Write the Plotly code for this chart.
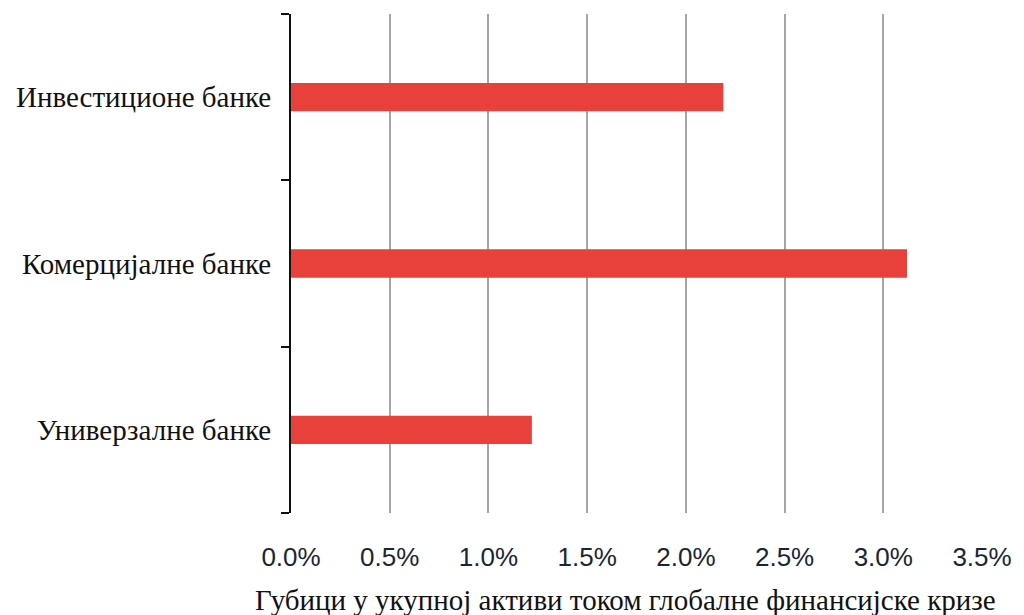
import plotly.graph_objects as go

categories = ["Универзалне банке", "Комерцијалне банке", "Инвестиционе банке"]
values = [0.0122, 0.0312, 0.0219]
tick_vals = [0, 0.005, 0.01, 0.015, 0.02, 0.025, 0.03, 0.035]
tick_text = ["0.0%", "0.5%", "1.0%", "1.5%", "2.0%", "2.5%", "3.0%", "3.5%"]
x_title = "Губици у укупној активи током глобалне финансијске кризе"

fig = go.Figure(go.Bar(
    y=categories, x=values, orientation="h",
    marker=dict(color="#E8403A", line=dict(width=0)),
    width=0.17,
))

fig.update_layout(
    width=1024, height=615,
    margin=dict(l=291, r=36, t=14, b=102),
    plot_bgcolor="white", paper_bgcolor="white",
    showlegend=False,
    annotations=[dict(
        text=x_title, xref="paper", yref="paper",
        x=(628 - 291) / 697, y=-(600 - 513) / 499,
        xanchor="center", yanchor="middle", showarrow=False,
        font=dict(family="Liberation Serif, Times New Roman", size=29, color="#111"),
    )],
)
fig.update_xaxes(
    range=[0, 0.035], tickvals=tick_vals, ticktext=tick_text,
    showgrid=True, gridcolor="#A6A6A6", gridwidth=1.5,
    zeroline=False, showline=False, ticks="",
    ticklabelstandoff=26,
    tickfont=dict(family="Liberation Sans, Arial", size=26, color="#1a2533"),
)
fig.update_yaxes(
    showline=True, linecolor="#111", linewidth=2,
    ticks="outside", tickson="boundaries", ticklen=8, tickcolor="#111", tickwidth=2,
    showgrid=False, zeroline=False,
    tickfont=dict(family="Liberation Serif, Times New Roman", size=29, color="#111"),
    ticklabelstandoff=12,
)

fig.write_html("out.html")
